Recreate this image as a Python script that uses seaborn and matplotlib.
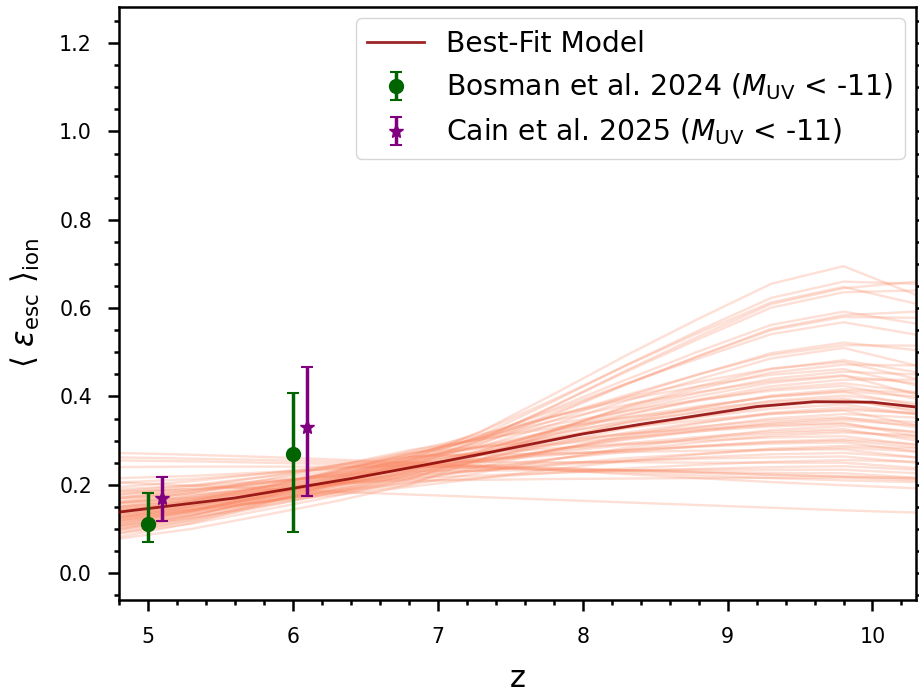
import numpy as np
import pandas as pd
import matplotlib
matplotlib.use("Agg")
import matplotlib.pyplot as plt
from matplotlib.ticker import MultipleLocator
import seaborn as sns

plt.rcParams["font.family"] = ["DejaVu Sans"]
plt.rcParams["mathtext.fontset"] = "dejavusans"

# Best-fit escape-fraction history
best_z = [4.8, 5.2, 5.6, 6.0, 6.4, 6.8, 7.2, 7.6, 8.0, 8.4, 8.8, 9.2, 9.6, 10.0, 10.3]
best_eps = [0.138, 0.154, 0.170, 0.192, 0.214, 0.238, 0.263, 0.289, 0.315,
            0.337, 0.357, 0.377, 0.388, 0.387, 0.376]

# Posterior draws, tabulated on a common redshift grid
sample_z = [4.8, 5.3, 5.8, 6.3, 6.8, 7.3, 7.8, 8.3, 8.8, 9.3, 9.8, 10.3]
sample_eps = [
    [0.082, 0.113, 0.156, 0.203, 0.255, 0.321, 0.405, 0.493, 0.576, 0.655, 0.695, 0.630],
    [0.090, 0.119, 0.159, 0.202, 0.250, 0.312, 0.389, 0.471, 0.549, 0.623, 0.660, 0.655],
    [0.100, 0.129, 0.170, 0.213, 0.262, 0.320, 0.393, 0.470, 0.544, 0.613, 0.648, 0.610],
    [0.105, 0.130, 0.165, 0.203, 0.245, 0.304, 0.378, 0.456, 0.530, 0.601, 0.636, 0.640],
    [0.098, 0.124, 0.159, 0.197, 0.240, 0.301, 0.378, 0.459, 0.536, 0.609, 0.645, 0.660],
    [0.110, 0.137, 0.174, 0.214, 0.258, 0.308, 0.372, 0.438, 0.502, 0.562, 0.592, 0.565],
    [0.115, 0.139, 0.173, 0.210, 0.250, 0.300, 0.362, 0.428, 0.491, 0.550, 0.580, 0.578],
    [0.108, 0.132, 0.166, 0.202, 0.242, 0.293, 0.358, 0.427, 0.492, 0.553, 0.584, 0.592],
    [0.112, 0.140, 0.178, 0.219, 0.265, 0.311, 0.368, 0.429, 0.486, 0.541, 0.568, 0.540],
    [0.120, 0.144, 0.178, 0.215, 0.255, 0.295, 0.346, 0.399, 0.450, 0.498, 0.522, 0.505],
    [0.118, 0.141, 0.174, 0.209, 0.248, 0.287, 0.337, 0.390, 0.439, 0.486, 0.510, 0.470],
    [0.125, 0.151, 0.187, 0.227, 0.270, 0.307, 0.354, 0.403, 0.450, 0.494, 0.516, 0.515],
    [0.078, 0.100, 0.131, 0.163, 0.200, 0.259, 0.321, 0.378, 0.423, 0.462, 0.482, 0.455],
    [0.090, 0.112, 0.143, 0.175, 0.212, 0.267, 0.324, 0.376, 0.417, 0.454, 0.472, 0.470],
    [0.125, 0.150, 0.184, 0.221, 0.262, 0.307, 0.355, 0.398, 0.433, 0.463, 0.478, 0.440],
    [0.100, 0.123, 0.155, 0.190, 0.228, 0.276, 0.326, 0.372, 0.408, 0.440, 0.456, 0.450],
    [0.130, 0.156, 0.192, 0.232, 0.275, 0.314, 0.355, 0.393, 0.423, 0.449, 0.462, 0.425],
    [0.108, 0.130, 0.161, 0.195, 0.232, 0.277, 0.324, 0.367, 0.401, 0.431, 0.446, 0.430],
    [0.140, 0.163, 0.195, 0.230, 0.268, 0.306, 0.345, 0.381, 0.410, 0.435, 0.448, 0.405],
    [0.095, 0.118, 0.150, 0.184, 0.222, 0.267, 0.315, 0.358, 0.393, 0.423, 0.438, 0.438],
    [0.120, 0.142, 0.172, 0.204, 0.240, 0.280, 0.322, 0.360, 0.390, 0.417, 0.430, 0.410],
    [0.140, 0.163, 0.196, 0.231, 0.270, 0.302, 0.336, 0.367, 0.392, 0.413, 0.424, 0.395],
    [0.105, 0.125, 0.152, 0.182, 0.215, 0.257, 0.301, 0.342, 0.374, 0.402, 0.416, 0.408],
    [0.150, 0.169, 0.195, 0.224, 0.255, 0.288, 0.322, 0.353, 0.378, 0.399, 0.410, 0.380],
    [0.125, 0.144, 0.171, 0.200, 0.232, 0.268, 0.305, 0.339, 0.366, 0.390, 0.402, 0.385],
    [0.160, 0.181, 0.211, 0.243, 0.278, 0.303, 0.329, 0.352, 0.371, 0.388, 0.396, 0.365],
    [0.115, 0.134, 0.161, 0.190, 0.222, 0.257, 0.294, 0.328, 0.355, 0.378, 0.390, 0.378],
    [0.145, 0.163, 0.188, 0.215, 0.245, 0.274, 0.304, 0.331, 0.353, 0.372, 0.382, 0.360],
    [0.130, 0.144, 0.162, 0.183, 0.205, 0.241, 0.278, 0.312, 0.339, 0.363, 0.375, 0.360],
    [0.170, 0.187, 0.210, 0.234, 0.262, 0.284, 0.308, 0.329, 0.346, 0.361, 0.368, 0.335],
    [0.120, 0.138, 0.162, 0.189, 0.218, 0.248, 0.279, 0.308, 0.330, 0.350, 0.360, 0.352],
    [0.150, 0.168, 0.193, 0.220, 0.250, 0.272, 0.294, 0.315, 0.331, 0.346, 0.353, 0.330],
    [0.135, 0.152, 0.175, 0.200, 0.228, 0.253, 0.279, 0.302, 0.321, 0.338, 0.346, 0.335],
    [0.178, 0.195, 0.218, 0.244, 0.272, 0.286, 0.301, 0.315, 0.326, 0.335, 0.340, 0.310],
    [0.140, 0.151, 0.166, 0.182, 0.200, 0.228, 0.257, 0.284, 0.305, 0.324, 0.333, 0.320],
    [0.160, 0.174, 0.194, 0.216, 0.240, 0.258, 0.277, 0.294, 0.308, 0.320, 0.326, 0.300],
    [0.125, 0.141, 0.162, 0.186, 0.212, 0.234, 0.258, 0.279, 0.296, 0.311, 0.318, 0.312],
    [0.185, 0.199, 0.218, 0.239, 0.262, 0.272, 0.283, 0.292, 0.300, 0.307, 0.310, 0.290],
    [0.150, 0.164, 0.182, 0.203, 0.225, 0.241, 0.259, 0.274, 0.287, 0.298, 0.303, 0.292],
    [0.170, 0.184, 0.204, 0.225, 0.248, 0.258, 0.269, 0.278, 0.286, 0.293, 0.296, 0.275],
    [0.135, 0.146, 0.161, 0.177, 0.195, 0.215, 0.235, 0.254, 0.269, 0.282, 0.288, 0.282],
    [0.195, 0.208, 0.225, 0.244, 0.265, 0.268, 0.271, 0.274, 0.277, 0.279, 0.280, 0.262],
    [0.160, 0.171, 0.187, 0.203, 0.222, 0.233, 0.244, 0.254, 0.262, 0.269, 0.272, 0.262],
    [0.180, 0.190, 0.205, 0.221, 0.238, 0.243, 0.249, 0.254, 0.259, 0.262, 0.264, 0.250],
    [0.145, 0.156, 0.171, 0.187, 0.205, 0.216, 0.227, 0.237, 0.245, 0.252, 0.256, 0.252],
    [0.205, 0.213, 0.225, 0.238, 0.252, 0.252, 0.251, 0.251, 0.250, 0.250, 0.250, 0.238],
    [0.170, 0.178, 0.189, 0.202, 0.215, 0.221, 0.227, 0.232, 0.236, 0.240, 0.242, 0.234],
    [0.190, 0.198, 0.208, 0.219, 0.232, 0.232, 0.233, 0.233, 0.234, 0.234, 0.234, 0.226],
    [0.215, 0.220, 0.228, 0.236, 0.245, 0.241, 0.237, 0.233, 0.230, 0.227, 0.226, 0.216],
    [0.185, 0.190, 0.196, 0.203, 0.210, 0.211, 0.213, 0.214, 0.215, 0.216, 0.216, 0.210],
    [0.132, 0.151, 0.177, 0.205, 0.236, 0.273, 0.312, 0.347, 0.375, 0.400, 0.412, 0.400],
    [0.155, 0.174, 0.199, 0.227, 0.258, 0.286, 0.316, 0.342, 0.364, 0.383, 0.392, 0.370],
    [0.142, 0.158, 0.180, 0.204, 0.230, 0.259, 0.290, 0.318, 0.341, 0.360, 0.370, 0.362],
    [0.128, 0.146, 0.170, 0.197, 0.226, 0.252, 0.279, 0.304, 0.324, 0.341, 0.350, 0.342],
    [0.165, 0.181, 0.204, 0.228, 0.255, 0.272, 0.291, 0.307, 0.321, 0.332, 0.338, 0.318],
    [0.148, 0.164, 0.186, 0.210, 0.236, 0.254, 0.273, 0.290, 0.304, 0.316, 0.322, 0.306],
    [0.175, 0.187, 0.204, 0.222, 0.242, 0.254, 0.267, 0.279, 0.288, 0.296, 0.300, 0.285],
    [0.158, 0.169, 0.184, 0.200, 0.218, 0.232, 0.246, 0.260, 0.270, 0.279, 0.284, 0.275],
    [0.272, 0.268, 0.263, 0.257, 0.250, 0.242, 0.233, 0.224, 0.215, 0.206, 0.199, 0.192],
    [0.205, 0.198, 0.191, 0.184, 0.178, 0.172, 0.166, 0.160, 0.154, 0.148, 0.142, 0.137],
    [0.255, 0.253, 0.250, 0.247, 0.243, 0.238, 0.233, 0.227, 0.221, 0.215, 0.210, 0.206],
    [0.240, 0.241, 0.241, 0.241, 0.240, 0.238, 0.235, 0.231, 0.227, 0.222, 0.218, 0.214],
    [0.262, 0.259, 0.256, 0.252, 0.248, 0.243, 0.238, 0.233, 0.228, 0.223, 0.219, 0.215],
]

# Observational constraints (value, lower bound, upper bound)
bosman_z = [5.0, 6.0]
bosman_eps = [0.112, 0.270]
bosman_lo = [0.071, 0.092]
bosman_hi = [0.181, 0.407]

cain_z = [5.1, 6.1]
cain_eps = [0.171, 0.330]
cain_lo = [0.118, 0.174]
cain_hi = [0.218, 0.467]

samples = pd.DataFrame(
    [(i, z, v) for i, row in enumerate(sample_eps) for z, v in zip(sample_z, row)],
    columns=["draw", "z", "eps"],
)
best = pd.DataFrame({"z": best_z, "eps": best_eps})

fig = plt.figure(figsize=(9.19, 6.91), dpi=100)
ax = fig.add_axes([0.1295, 0.1317, 0.8672, 0.8582])

sns.lineplot(data=samples, x="z", y="eps", units="draw", estimator=None,
             color="#FA8A66", alpha=0.27, linewidth=1.7, legend=False, ax=ax,
             zorder=1)
sns.lineplot(data=best, x="z", y="eps", color="darkred", alpha=0.85,
             linewidth=2.0, label="Best-Fit Model", ax=ax, zorder=3)

b_eps = np.array(bosman_eps)
ax.errorbar(bosman_z, b_eps,
            yerr=[b_eps - np.array(bosman_lo), np.array(bosman_hi) - b_eps],
            fmt="o", color="darkgreen", markersize=10, elinewidth=2.5,
            capsize=4, capthick=1.5, zorder=4,
            label=r"Bosman et al. 2024 ($M_{\rm UV}$ < -11)")
c_eps = np.array(cain_eps)
ax.errorbar(cain_z, c_eps,
            yerr=[c_eps - np.array(cain_lo), np.array(cain_hi) - c_eps],
            fmt="*", color="purple", markersize=10, elinewidth=2.5,
            capsize=4, capthick=1.5, zorder=4,
            label=r"Cain et al. 2025 ($M_{\rm UV}$ < -11)")

ax.set_xlim(4.8, 10.3)
ax.set_ylim(-0.061, 1.282)
ax.xaxis.set_major_locator(MultipleLocator(1))
ax.xaxis.set_minor_locator(MultipleLocator(0.2))
ax.yaxis.set_major_locator(MultipleLocator(0.2))
ax.yaxis.set_minor_locator(MultipleLocator(0.05))
ax.tick_params(which="both", direction="out", right=True, top=False,
               width=1.8, labelsize=14.8, pad=11.5)
ax.tick_params(which="major", length=8)
ax.tick_params(which="minor", length=3.6)
for s in ax.spines.values():
    s.set_linewidth(1.8)

ax.set_xlabel("z", fontsize=22, labelpad=12)
ax.set_ylabel(r"$\langle\ \varepsilon_{\rm esc}\ \rangle_{\rm ion}$", fontsize=22,
              labelpad=12)

ax.legend(loc="upper right", fontsize=20.3, borderaxespad=0.4)

fig.savefig("out.png", dpi=100)
